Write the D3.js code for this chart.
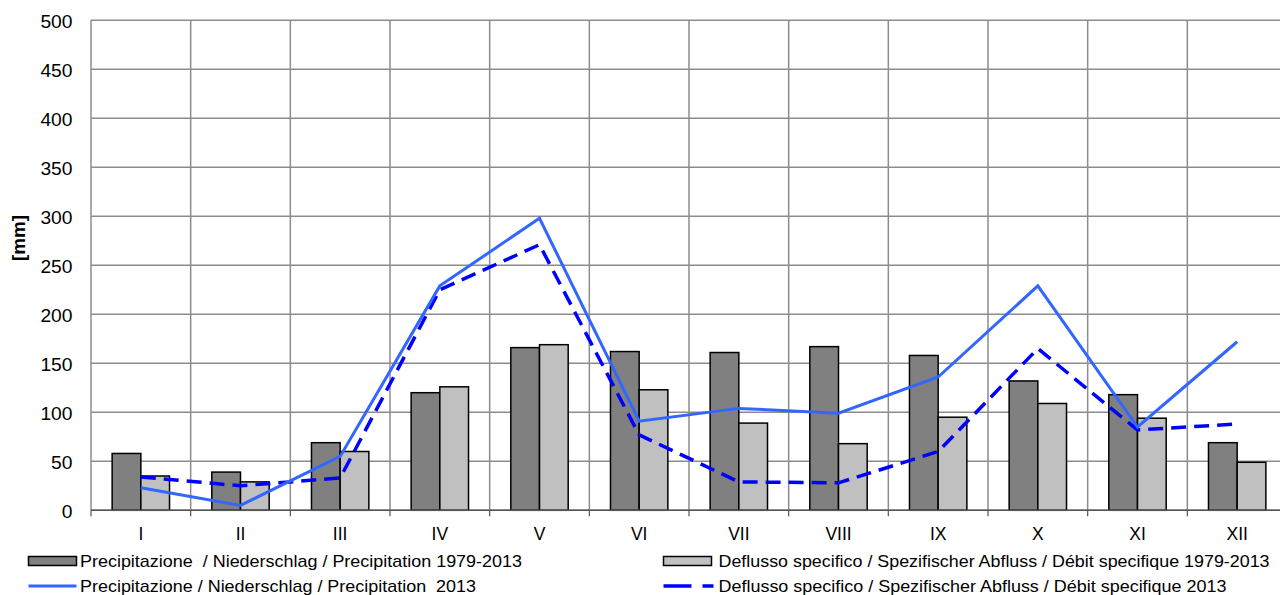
<!DOCTYPE html>
<html>
<head>
<meta charset="utf-8">
<script src="https://cdn.jsdelivr.net/npm/d3@7"></script>
<style>
  body { margin: 0; background: #fff; }
  svg { display: block; font-family: "Liberation Sans", Arial, sans-serif; }
  text { white-space: pre; }
</style>
</head>
<body>
<svg id="chart" width="1280" height="595"></svg>
<script>
const months = ["I", "II", "III", "IV", "V", "VI", "VII", "VIII", "IX", "X", "XI", "XII"];
const precipMean = [58, 39, 69, 120, 166, 162, 161, 167, 158, 132, 118, 69];
const runoffMean = [35, 29, 60, 126, 169, 123, 89, 68, 95, 109, 94, 49];
const precip2013 = [23, 5, 55, 229, 298, 91, 104, 99, 136, 229, 85, 172];
const runoff2013 = [34, 25, 33, 225, 271, 77, 29, 28, 60, 165, 82, 88];
const yTicks = [0, 50, 100, 150, 200, 250, 300, 350, 400, 450, 500];
const legendLabels = [
    "Precipitazione  / Niederschlag / Precipitation 1979-2013",
    "Deflusso specifico / Spezifischer Abfluss / Débit specifique 1979-2013",
    "Precipitazione / Niederschlag / Precipitation  2013",
    "Deflusso specifico / Spezifischer Abfluss / Débit specifique 2013"
];

const svg = d3.select("#chart");
const plotLeft = 91, plotRight = 1287, plotTop = 20.3, plotBottom = 510.3;
const stretch = 1.1; // glyphs in the original are a bit wider than Arial

const x = d3.scaleBand().domain(months).range([plotLeft, plotRight]);
const xInner = d3.scaleBand().domain(["mean", "runoff"])
    .range([0, x.bandwidth()]).paddingOuter(0.737);
const y = d3.scaleLinear().domain([0, 500]).range([plotBottom, plotTop]);

// grid
const grid = svg.append("g").attr("stroke", "#8c8c8c").attr("stroke-width", 1.5);
grid.selectAll("line.h").data(yTicks).join("line")
    .attr("x1", plotLeft).attr("x2", plotRight)
    .attr("y1", d => y(d)).attr("y2", d => y(d));
grid.selectAll("line.v").data(months.slice(1)).join("line")
    .attr("x1", d => x(d)).attr("x2", d => x(d))
    .attr("y1", plotTop).attr("y2", plotBottom);
grid.append("line").attr("x1", plotLeft).attr("x2", plotLeft).attr("y1", plotTop).attr("y2", plotBottom);

// y axis
const yAxis = svg.append("g").attr("transform", `translate(${plotLeft},0)`)
    .call(d3.axisLeft(y).tickValues(yTicks).tickSize(0));
yAxis.select(".domain").remove();
yAxis.selectAll("text")
    .attr("x", 0).attr("dy", "0.4em")
    .attr("transform", `translate(-18.5,0) scale(${stretch},1)`)
    .attr("font-size", 17.5).attr("fill", "#000")
    .attr("font-family", "Liberation Sans, Arial, sans-serif");

svg.append("text")
    .attr("transform", "translate(25,238) rotate(-90)")
    .attr("text-anchor", "middle")
    .attr("font-size", 18).attr("font-weight", "bold")
    .attr("textLength", 46).attr("lengthAdjust", "spacingAndGlyphs")
    .text("[mm]");

// x axis
const xAxis = svg.append("g").attr("transform", `translate(0,${plotBottom})`)
    .call(d3.axisBottom(x).tickSize(0).tickPadding(17));
xAxis.select(".domain").remove();
xAxis.selectAll("text")
    .attr("font-size", 17.5).attr("fill", "#000")
    .attr("font-family", "Liberation Sans, Arial, sans-serif");
svg.append("g").attr("stroke", "#555").attr("stroke-width", 1.2)
    .selectAll("line").data(months.concat(["end"])).join("line")
    .attr("x1", (d, i) => plotLeft + i * x.step()).attr("x2", (d, i) => plotLeft + i * x.step())
    .attr("y1", plotBottom).attr("y2", plotBottom + 6);

// bars
const bars = svg.append("g").attr("stroke", "#000").attr("stroke-width", 1.5);
bars.selectAll("rect.mean").data(precipMean).join("rect")
    .attr("x", (d, i) => x(months[i]) + xInner("mean"))
    .attr("y", d => y(d))
    .attr("width", xInner.bandwidth())
    .attr("height", d => plotBottom - y(d))
    .attr("fill", "#808080");
bars.selectAll("rect.runoff").data(runoffMean).join("rect")
    .attr("x", (d, i) => x(months[i]) + xInner("runoff"))
    .attr("y", d => y(d))
    .attr("width", xInner.bandwidth())
    .attr("height", d => plotBottom - y(d))
    .attr("fill", "#c0c0c0");

svg.append("line").attr("x1", plotLeft).attr("x2", plotRight)
    .attr("y1", plotBottom).attr("y2", plotBottom)
    .attr("stroke", "#555").attr("stroke-width", 1.5);

// lines
const line = d3.line()
    .x((d, i) => x(months[i]) + x.bandwidth() / 2)
    .y(d => y(d));
svg.append("path").datum(runoff2013).attr("d", line)
    .attr("fill", "none").attr("stroke", "#0000ff")
    .attr("stroke-width", 3.5).attr("stroke-dasharray", "15,8");
svg.append("path").datum(precip2013).attr("d", line)
    .attr("fill", "none").attr("stroke", "#3366ff")
    .attr("stroke-width", 3);

// legend
const legend = svg.append("g").attr("font-size", 17);
const swatchX = [28.5, 663.5];
const rowY = [561, 586];
legend.append("rect").attr("x", swatchX[0]).attr("y", rowY[0] - 4.5).attr("width", 48).attr("height", 9)
    .attr("fill", "#808080").attr("stroke", "#000").attr("stroke-width", 1.5);
legend.append("rect").attr("x", swatchX[1]).attr("y", rowY[0] - 4.5).attr("width", 48).attr("height", 9)
    .attr("fill", "#c0c0c0").attr("stroke", "#000").attr("stroke-width", 1.5);
legend.append("line").attr("x1", swatchX[0]).attr("x2", swatchX[0] + 48).attr("y1", rowY[1]).attr("y2", rowY[1])
    .attr("stroke", "#3366ff").attr("stroke-width", 3);
legend.append("line").attr("x1", swatchX[1]).attr("x2", swatchX[1] + 50).attr("y1", rowY[1]).attr("y2", rowY[1])
    .attr("stroke", "#0000ff").attr("stroke-width", 3.5).attr("stroke-dasharray", "28,11");
const textX = [80, 718.5, 80, 718.5];
const textW = [442, 551, 396, 508];
legend.selectAll("text").data(legendLabels).join("text")
    .attr("x", (d, i) => textX[i])
    .attr("y", (d, i) => rowY[Math.floor(i / 2)])
    .attr("dy", "0.36em")
    .attr("textLength", (d, i) => textW[i])
    .attr("lengthAdjust", "spacingAndGlyphs")
    .text(d => d);
</script>
</body>
</html>
